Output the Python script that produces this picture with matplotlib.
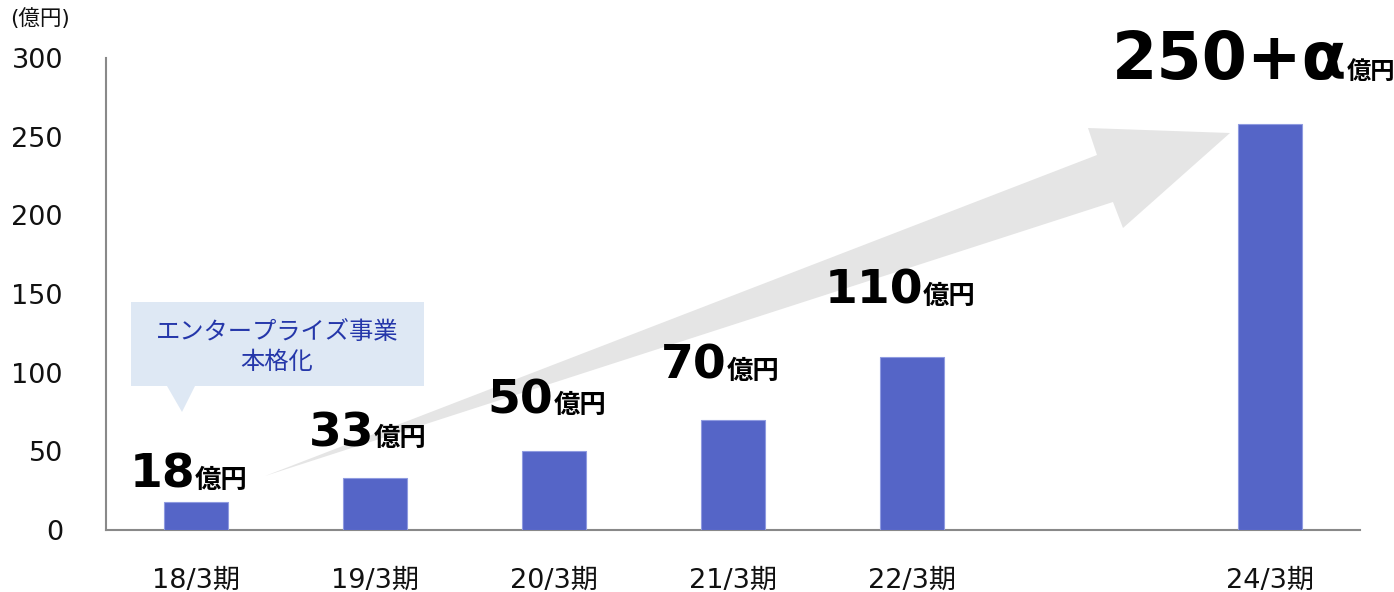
import matplotlib
matplotlib.use('Agg')
import matplotlib.pyplot as plt
from matplotlib.patches import Polygon

# ---- data ----
fiscal_years = [18, 19, 20, 21, 22, 24]
period_labels = ['18/3期', '19/3期', '20/3期', '21/3期', '22/3期', '24/3期']
sales = [18, 33, 50, 70, 110, 258]
value_labels = ['18', '33', '50', '70', '110', '250+α']
unit_label = '億円'
yticks = [0, 50, 100, 150, 200, 250, 300]
y_unit = '(億円)'
callout_text = 'エンタープライズ事業\n本格化'

# ---- layout / style ----
W, H = 1394, 592
label_gap_px = [14, 32, 38, 41, 53, 45]
label_dx_px = [-7, -7, -7, -13, -12, -17]
num_sizes = [34, 34, 34, 34, 34, 47]
unit_sizes = [19, 19, 19, 19, 19, 17.5]

def px(x, y):
    return (x / W, 1 - y / H)

fig = plt.figure(figsize=(W / 100, H / 100), dpi=100)
ax = fig.add_axes([106 / W, 1 - 530 / H, (1360 - 106) / W, (530 - 58) / H])

ax.bar(fiscal_years, sales, width=0.357, color='#5565C7',
       edgecolor='#8F9BE0', linewidth=0.8, zorder=3)
ax.set_xlim(17.5, 24.5)
ax.set_ylim(0, 300)

ax.set_yticks(yticks)
ax.set_yticklabels([str(v) for v in yticks], fontsize=19.5, family='DejaVu Sans', color='#111111')
ax.set_xticks(fiscal_years)
ax.set_xticklabels(period_labels, fontsize=19.5, family=['DejaVu Sans', 'Noto Sans CJK JP'], color='#111111')
ax.tick_params(axis='y', length=0, pad=31)
ax.tick_params(axis='x', length=0, pad=27)

for s in ['top', 'right']:
    ax.spines[s].set_visible(False)
for s in ['left', 'bottom']:
    ax.spines[s].set_color('#898989')
    ax.spines[s].set_linewidth(1.5)

# big growth arrow (decoration)
arrow_pts = [(265, 476), (1097, 155), (1088, 128), (1230, 133),
             (1123, 228), (1113, 202)]
arrow = Polygon([px(*p) for p in arrow_pts], closed=True, transform=fig.transFigure,
                facecolor='#E5E5E5', edgecolor='none', zorder=1, clip_on=False)
ax.add_patch(arrow)

# callout box
box_pts = [(131, 302), (424, 302), (424, 386), (195, 386), (182, 412),
           (167, 386), (131, 386)]
box = Polygon([px(*p) for p in box_pts], closed=True, transform=fig.transFigure,
              facecolor='#DEE8F4', edgecolor='none', zorder=2, clip_on=False)
ax.add_patch(box)
fig.text(*px(277, 347), callout_text, ha='center', va='center', fontsize=17.5,
         family='Noto Sans CJK JP', color='#2537AA', linespacing=1.2, multialignment='center')

fig.text(*px(10, 19), y_unit, ha='left', va='center', fontsize=15.5,
         family=['DejaVu Sans', 'Noto Sans CJK JP'], color='#111111')

# value labels
renderer = fig.canvas.get_renderer()
for i, (x, v) in enumerate(zip(fiscal_years, sales)):
    gap = label_gap_px[i] * 0.72
    t1 = ax.annotate(value_labels[i], xy=(x, v), xytext=(0, gap), textcoords='offset points',
                     ha='left', va='baseline', fontsize=num_sizes[i], fontweight='bold',
                     family='DejaVu Sans', color='black', zorder=5)
    t2 = ax.annotate(unit_label, xy=(x, v), xytext=(0, gap), textcoords='offset points',
                     ha='left', va='baseline', fontsize=unit_sizes[i], fontweight='bold',
                     family='Noto Sans CJK JP', color='black', zorder=5)
    w1 = t1.get_window_extent(renderer).width
    w2 = t2.get_window_extent(renderer).width
    start = label_dx_px[i] - (w1 + w2) / 2
    t1.set_position((start * 0.72, gap))
    t2.set_position(((start + w1) * 0.72, gap))

fig.savefig('out.png', dpi=100)
